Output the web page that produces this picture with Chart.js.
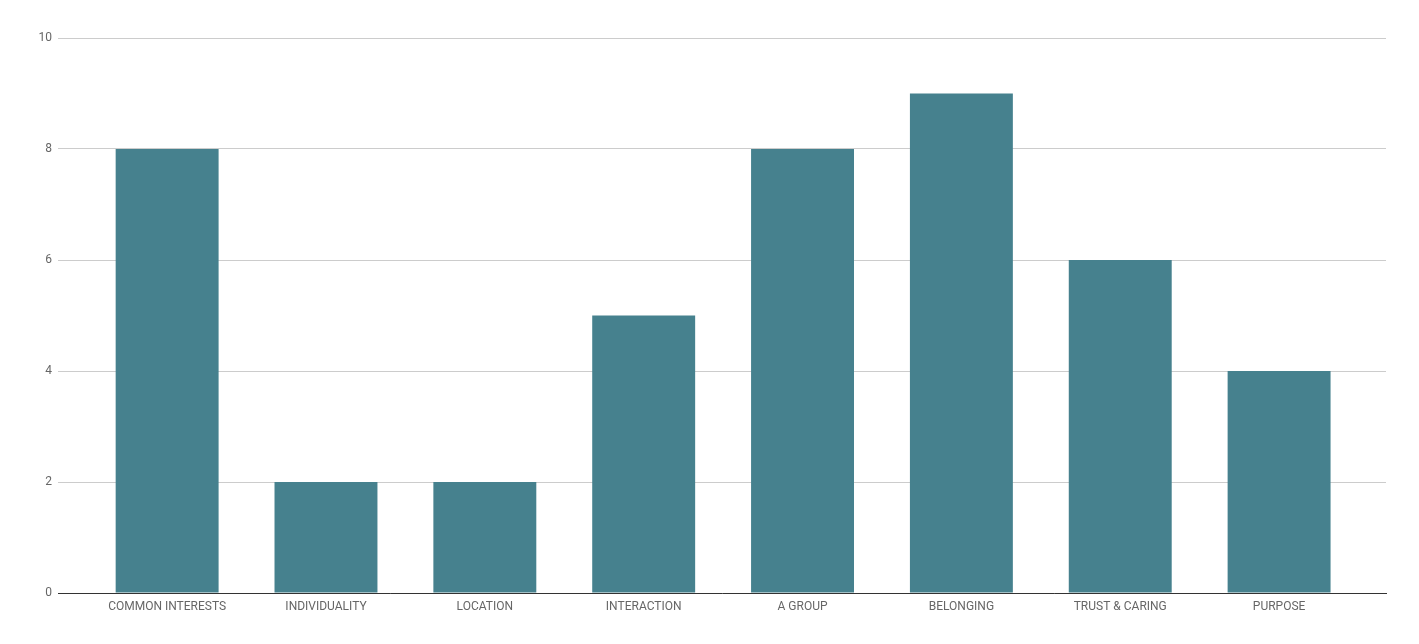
<!DOCTYPE html>
<html>
<head>
<meta charset="utf-8">
<script src="https://cdn.jsdelivr.net/npm/chart.js@4/dist/chart.umd.min.js"></script>
<style>
  html, body { margin: 0; padding: 0; background: #fff; }
  #wrap { width: 1419px; height: 644px; }
</style>
</head>
<body>
<div id="wrap"><canvas id="myChart"></canvas></div>
<script>
var categories = ['COMMON INTERESTS', 'INDIVIDUALITY', 'LOCATION', 'INTERACTION', 'A GROUP', 'BELONGING', 'TRUST & CARING', 'PURPOSE'];
var values = [8, 2, 2, 5, 8, 9, 6, 4];
var yTicks = [0, 2, 4, 6, 8, 10];

var ctx = document.getElementById('myChart').getContext('2d');

var points = categories.map(function (c, i) { return { x: i, y: values[i] }; });

var mychart = new Chart(ctx, {
  type: 'bar',
  data: {
    datasets: [{
      data: points,
      backgroundColor: '#46818e',
      borderWidth: 0,
      categoryPercentage: 1,
      barPercentage: 0.648
    }]
  },
  options: {
    responsive: true,
    maintainAspectRatio: false,
    animation: false,
    layout: {
      padding: { left: 0, top: 38, right: 33, bottom: 0 }
    },
    plugins: {
      legend: { display: false },
      tooltip: { enabled: false }
    },
    scales: {
      x: {
        type: 'linear',
        offset: false,
        bounds: 'data',
        min: -0.687,
        max: 7.673,
        grid: { display: false },
        border: { display: true, color: '#333333', width: 1 },
        afterBuildTicks: function (s) {
          s.ticks = categories.map(function (c, i) { return { value: i }; });
        },
        afterFit: function (s) { s.height = 51; },
        ticks: {
          autoSkip: false,
          maxRotation: 0,
          padding: -1,
          color: '#666666',
          font: { family: 'Roboto', size: 12 },
          callback: function (v) { return categories[v]; }
        }
      },
      y: {
        min: 0,
        max: 10,
        afterBuildTicks: function (s) {
          s.ticks = yTicks.map(function (v) { return { value: v }; });
        },
        afterFit: function (s) { s.width = 58; },
        grid: { color: '#cccccc', drawTicks: false },
        border: { display: false },
        ticks: {
          padding: 6,
          color: '#666666',
          font: { family: 'Roboto', size: 12 }
        }
      }
    }
  }
});
</script>
</body>
</html>
